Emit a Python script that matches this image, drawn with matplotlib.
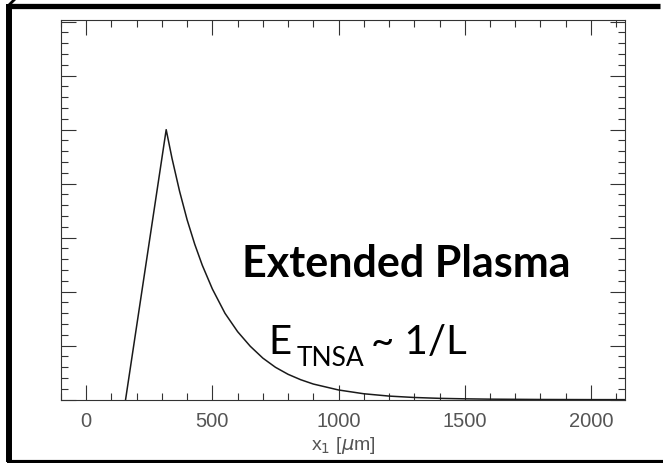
import matplotlib.pyplot as plt
from matplotlib.lines import Line2D
from matplotlib.ticker import MultipleLocator

# field profile (x in um, arbitrary units)
x_um = [156, 317, 340, 370, 400, 430, 460, 500, 550, 600, 650, 700, 750, 800,
        850, 900, 1000, 1100, 1200, 1300, 1400, 1500, 1600, 1800, 2000, 2133]
field = [0.0, 5.0, 4.47, 3.86, 3.33, 2.88, 2.49, 2.05, 1.60, 1.26, 0.99, 0.77,
         0.60, 0.47, 0.37, 0.29, 0.18, 0.11, 0.067, 0.041, 0.025, 0.016,
         0.010, 0.004, 0.0015, 0.001]
x_ticks = [0, 500, 1000, 1500, 2000]

W, H = 663, 464


def px(x, y):
    # pixel position (from top left) -> figure fraction
    return x / W, 1 - y / H


fig = plt.figure(figsize=(W / 100, H / 100), dpi=100)
ax = fig.add_axes([60.7 / W, 1 - 400.7 / H, (625 - 60.7) / W, (400.7 - 20.5) / H])

ax.plot(x_um, field, color='#1a1a1a', lw=1.1)

ax.set_xlim(-101, 2135)
ax.set_ylim(0, 7.04)
ax.set_xticks(x_ticks)
ax.xaxis.set_minor_locator(MultipleLocator(100))
ax.yaxis.set_major_locator(MultipleLocator(1))
ax.yaxis.set_minor_locator(MultipleLocator(0.2))
ax.set_yticklabels([])
ax.tick_params(which='both', direction='in', top=True, right=True,
               color='#333333', width=0.8)
ax.tick_params(which='major', length=10.8)
ax.tick_params(which='minor', length=5.2)
ax.tick_params(axis='x', which='major', labelsize=14.5, labelcolor='#555555',
               pad=8, labelfontfamily='Liberation Sans')
for s in ax.spines.values():
    s.set_color('#333333')
    s.set_linewidth(0.8)

plt.rcParams['mathtext.fontset'] = 'custom'
plt.rcParams['mathtext.rm'] = 'Liberation Sans'
plt.rcParams['mathtext.it'] = 'Liberation Sans:italic'
ax.set_xlabel(r'x$_{\rm 1}$ [$\mu$m]', fontsize=14, color='#555555',
              family='Liberation Sans', labelpad=3)

# annotations
fig.text(*px(241.7, 277.3), 'Extended Plasma', family='Lato', weight='bold',
         fontsize=31, va='baseline', ha='left', color='black')
fig.text(*px(268.3, 354), 'E', family='Lato', fontsize=29,
         va='baseline', ha='left', color='black')
fig.text(*px(296.7, 365.7), 'TNSA', family='Lato', fontsize=19,
         va='baseline', ha='left', color='black')
fig.text(*px(371, 354), '~ 1/L', family='Lato', fontsize=29,
         va='baseline', ha='left', color='black')

# black frame around the slide panel (right side cut off)
frame = dict(color='black', solid_capstyle='butt', transform=fig.transFigure)
fig.add_artist(Line2D([9 / W, 660 / W], [1 - 7 / H, 1 - 7 / H], lw=3.8, **frame))
fig.add_artist(Line2D([9 / W, 9 / W], [1 - 5 / H, 1 - 463 / H], lw=4.3, **frame))
fig.add_artist(Line2D([7 / W, 1], [1 - 463 / H, 1 - 463 / H], lw=3.0, **frame))
fig.add_artist(Line2D([7 / W, 15 / W], [1 - 8 / H, 1], lw=2.0, **frame))

fig.savefig('out.png', dpi=100)
